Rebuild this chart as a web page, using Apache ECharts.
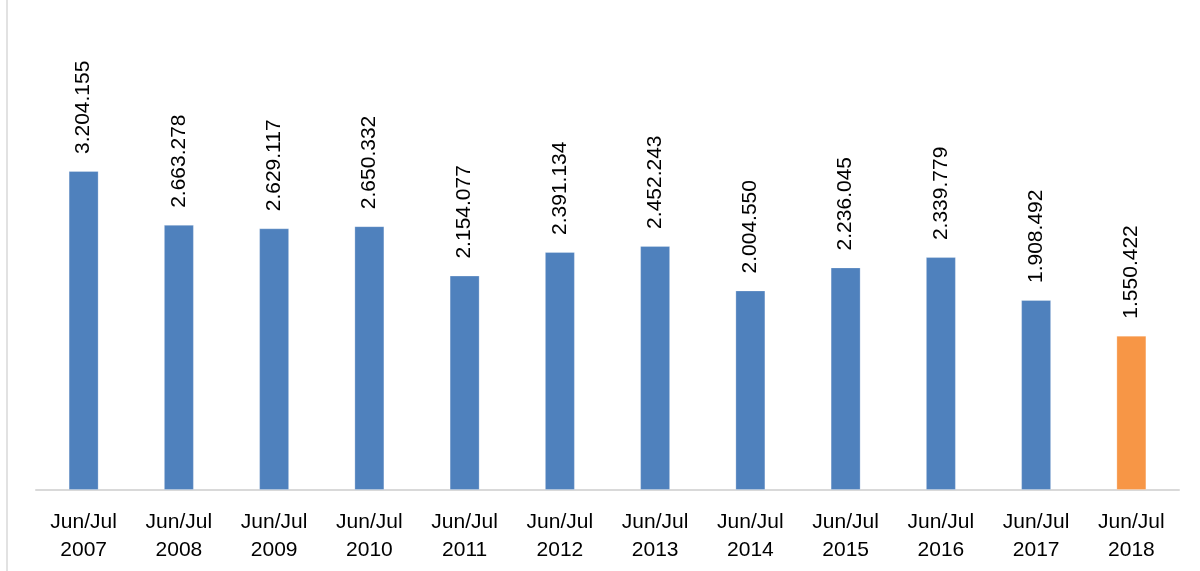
<!DOCTYPE html>
<html>
<head>
<meta charset="utf-8">
<style>
  html, body { margin: 0; padding: 0; background: #ffffff; }
  #chart { width: 1200px; height: 571px; }
</style>
<script src="https://cdn.jsdelivr.net/npm/echarts@6/dist/echarts.min.js"></script>
</head>
<body>
<div id="chart"></div>
<script>
// Period labels on the category axis (two lines each)
const categories = [
  'Jun/Jul\n2007', 'Jun/Jul\n2008', 'Jun/Jul\n2009', 'Jun/Jul\n2010',
  'Jun/Jul\n2011', 'Jun/Jul\n2012', 'Jun/Jul\n2013', 'Jun/Jul\n2014',
  'Jun/Jul\n2015', 'Jun/Jul\n2016', 'Jun/Jul\n2017', 'Jun/Jul\n2018'
];

// Totals per period
const values = [
  3204155, 2663278, 2629117, 2650332, 2154077, 2391134,
  2452243, 2004550, 2236045, 2339779, 1908492, 1550422
];

// Bar colours: earlier years in blue, latest year highlighted
const barColors = [
  '#4F81BD', '#4F81BD', '#4F81BD', '#4F81BD', '#4F81BD', '#4F81BD',
  '#4F81BD', '#4F81BD', '#4F81BD', '#4F81BD', '#4F81BD', '#F79646'
];

// Thousands separated with dots
function fmt(v) {
  return String(v).replace(/\B(?=(\d{3})+(?!\d))/g, '.');
}

const chart = echarts.init(document.getElementById('chart'), null, { renderer: 'canvas' });

const FONT = '"Liberation Sans", Arial, sans-serif';

chart.setOption({
  backgroundColor: '#ffffff',
  animation: false,
  grid: { left: 36, right: 21, top: 91.8, bottom: 81, containLabel: false },
  xAxis: {
    type: 'category',
    data: categories,
    axisLine: { show: true, lineStyle: { color: '#d9d9d9', width: 2 } },
    axisTick: { show: false },
    axisLabel: {
      color: '#000000',
      fontFamily: FONT,
      fontSize: 21,
      lineHeight: 28,
      margin: 18,
      interval: 0
    }
  },
  yAxis: {
    type: 'value',
    min: 0,
    max: 4000000,
    show: false,
    splitLine: { show: false }
  },
  graphic: [
    {
      type: 'line',
      shape: { x1: 7, y1: 0, x2: 7, y2: 571 },
      style: { stroke: '#d9d9d9', lineWidth: 1.5 },
      silent: true
    }
  ],
  series: [{
    type: 'bar',
    data: values.map((v, i) => ({
      value: v,
      itemStyle: { color: barColors[i] }
    })),
    barWidth: 30,
    itemStyle: { borderColor: 'rgba(255,255,255,0.25)', borderWidth: 1 },
    label: {
      show: true,
      position: 'top',
      distance: 17,
      rotate: 90,
      align: 'left',
      verticalAlign: 'middle',
      color: '#000000',
      fontFamily: FONT,
      fontSize: 21,
      formatter: p => fmt(p.value)
    }
  }]
});
</script>
</body>
</html>
